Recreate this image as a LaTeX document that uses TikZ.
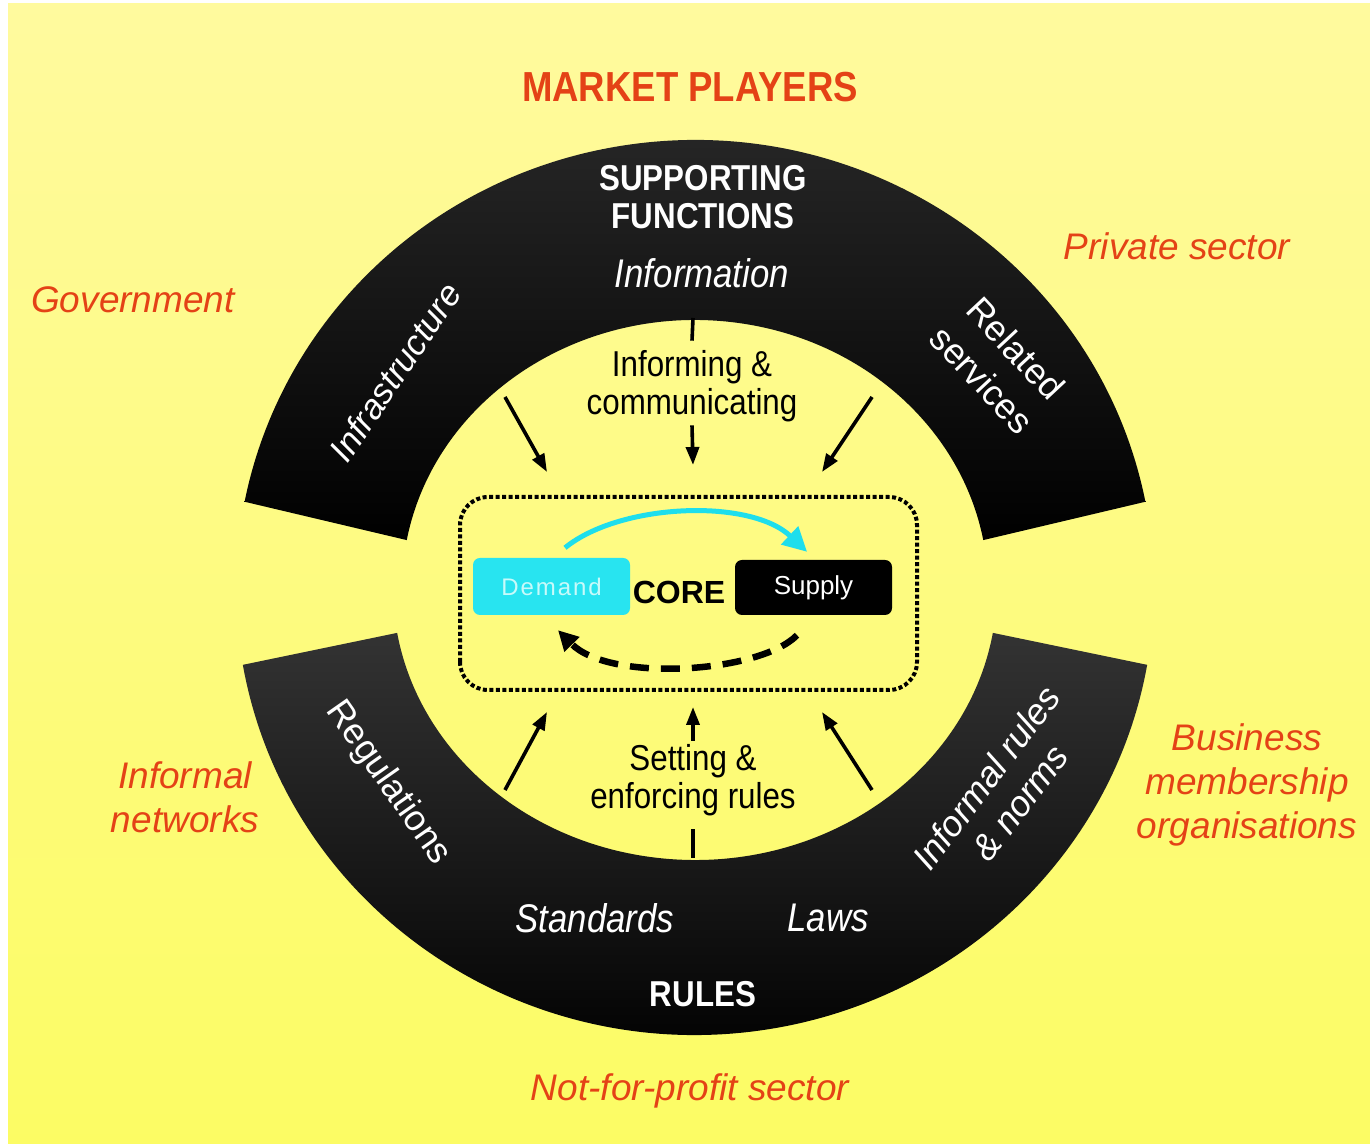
\documentclass[tikz,border=0pt]{standalone}
\usepackage{fontspec}
\setmainfont{Liberation Sans}
\newfontfamily\narrowfont[FakeStretch=0.87]{Liberation Sans}
\usetikzlibrary{arrows.meta}
\definecolor{bgtop}{RGB}{255,250,158}
\definecolor{bgbot}{RGB}{252,252,100}
\definecolor{playerred}{RGB}{228,66,22}
\definecolor{demandcyan}{RGB}{40,228,240}
\definecolor{demandtext}{RGB}{200,250,250}
\definecolor{flowcyan}{RGB}{30,222,236}

\begin{document}
\begin{tikzpicture}[x=1pt,y=1pt,
  player/.style={text=playerred, font=\fontsize{37}{44}\selectfont\itshape, align=center},
  bandtext/.style={text=white, align=center},
  flowtext/.style={text=black, font=\narrowfont\fontsize{36}{38}\selectfont, align=center},
  push/.style={line width=3.6pt, -{Triangle[length=18pt,width=13pt]}},
  corebox/.style={rounded corners=7pt, minimum width=157pt, inner sep=0pt},
]
\useasboundingbox (0,0) rectangle (1370,1143);
\fill[white] (0,0) rectangle (1370,1143);
\shade[top color=bgtop, bottom color=bgbot] (8,0) rectangle (1370,1139);

% the two black bands around the core
\begin{scope}[shift={(695,555)}]
  \shade[top color=black!84, bottom color=black]
    (11.1:459pt and 448pt) arc[start angle=11.1, end angle=168.9, x radius=459pt, y radius=448pt]
    -- (169.7:293pt and 268pt) arc[start angle=169.7, end angle=10.3, x radius=293pt, y radius=268pt]
    -- cycle;
  \shade[top color=black!80, bottom color=black]
    (189.9:459pt and 447pt) arc[start angle=189.9, end angle=350.1, x radius=459pt, y radius=447pt]
    -- (350.5:302pt and 272pt) arc[start angle=350.5, end angle=189.5, x radius=302pt, y radius=272pt]
    -- cycle;
\end{scope}

% title and market players
\node[text=playerred, font=\narrowfont\bfseries\fontsize{42}{44}\selectfont] (mp) at (690,1056) {MARKET PLAYERS};
\node[player] (gov) at (133,843) {Government};
\node[player] (priv) at (1177,897) {Private sector};
\node[player] (net) at (185,346) {Informal\\networks};
\node[player] (bmo) at (1247,358) {Business\\membership\\organisations};
\node[player] (nfp) at (690,52) {Not-for-profit sector};

% supporting functions band
\node[bandtext, font=\narrowfont\bfseries\fontsize{36}{38}\selectfont] (sf) at (703,946) {SUPPORTING\\FUNCTIONS};
\node[bandtext, font=\narrowfont\itshape\fontsize{40}{44}\selectfont] (info) at (702,870) {Information};
\node[bandtext, font=\itshape\fontsize{35}{42}\selectfont, rotate=56] (infra) at (395,771) {Infrastructure};
\node[bandtext, font=\fontsize{36}{46}\selectfont, rotate=-47] (rel) at (999,779) {Related\\services};

% rules band
\node[bandtext, font=\fontsize{36}{44}\selectfont, rotate=-55] (reg) at (388,360) {Regulations};
\node[bandtext, font=\itshape\fontsize{36}{42}\selectfont, rotate=53] (inf) at (1003,353) {Informal rules\\\& norms};
\node[bandtext, font=\narrowfont\itshape\fontsize{40}{44}\selectfont] (std) at (595,225) {Standards};
\node[bandtext, font=\narrowfont\itshape\fontsize{40}{44}\selectfont] (laws) at (828,225) {Laws};
\node[bandtext, font=\narrowfont\bfseries\fontsize{36}{38}\selectfont] (rules) at (703,149) {RULES};

% core
\draw[line width=4pt, dash pattern=on 4pt off 2.5pt, rounded corners=28pt] (460,453) rectangle (917,646);
\node[corebox, fill=demandcyan, minimum height=57pt, text=demandtext,
      font=\fontsize{24}{26}\selectfont\addfontfeatures{LetterSpace=8}] (dem) at (551.5,556.5) {Demand};
\node[font=\bfseries\fontsize{32}{34}\selectfont] (core) at (679,551) {CORE};
\node[corebox, fill=black, minimum height=55pt, text=white,
      font=\fontsize{26}{28}\selectfont] (sup) at (813.5,555.5) {Supply};
\draw[flowcyan, line width=5pt, -{Triangle[length=24pt,width=24pt]}]
  ([xshift=13.5pt,yshift=10pt]dem.north) .. controls (620,640) and (750,645) .. ([xshift=-6.5pt,yshift=8pt]sup.north);
\draw[line width=6.5pt, dash pattern=on 19pt off 12pt, -{Triangle[length=20pt,width=20pt]}]
  ([xshift=-16.5pt,yshift=-20pt]sup.south) .. controls (760,470) and (610,460) .. ([xshift=6.5pt,yshift=-15pt]dem.south);

% informing and communicating
\node[flowtext] (inform) at (692,757) {Informing \&\\communicating};
\coordinate (topin) at (693,825);
\coordinate (topout) at (693,678);
\draw[line width=3.6pt] (topin) -- ([yshift=6pt]inform.north);
\draw[push] (inform.south) -- (topout);
\coordinate (tl0) at (505,746);
\coordinate (tl1) at (547,671);
\coordinate (tr0) at (872,746);
\coordinate (tr1) at (822,671);
\draw[push] (tl0) -- (tl1);
\draw[push] (tr0) -- (tr1);

% setting and enforcing rules
\node[flowtext] (setting) at (693,363) {Setting \&\\enforcing rules};
\coordinate (botin) at (693,285);
\coordinate (botout) at (693,436);
\draw[line width=3.6pt] (botin) -- ([yshift=-10pt]setting.south);
\draw[push] (setting.north) -- (botout);
\coordinate (bl0) at (505,353);
\coordinate (bl1) at (547,431);
\coordinate (br0) at (872,353);
\coordinate (br1) at (822,431);
\draw[push] (bl0) -- (bl1);
\draw[push] (br0) -- (br1);
\end{tikzpicture}
\end{document}
